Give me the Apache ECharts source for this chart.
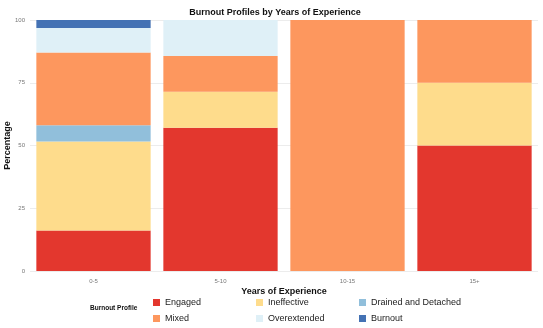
<!DOCTYPE html>
<html>
<head>
<meta charset="utf-8">
<script src="https://cdn.jsdelivr.net/npm/echarts@6/dist/echarts.min.js"></script>
<style>
  html, body { margin: 0; padding: 0; background: #fff; }
  #main { width: 543px; height: 328px; }
</style>
</head>
<body>
<div id="main"></div>
<script>
// categories and percentages per profile
const years = ['0-5', '5-10', '10-15', '15+'];
const engaged = [16.1, 57.1, 0, 50];
const ineffective = [35.5, 14.3, 0, 25];
const drained = [6.5, 0, 0, 0];
const mixed = [29.0, 14.3, 100, 25];
const overextended = [9.7, 14.3, 0, 0];
const burnout = [3.2, 0, 0, 0];
const yTicks = [0, 25, 50, 75, 100];

const colors = {
    'Engaged': '#e3372e',
    'Ineffective': '#fedc8c',
    'Drained and Detached': '#91bfdb',
    'Mixed': '#fd975e',
    'Overextended': '#dff0f7',
    'Burnout': '#4472b4'
};

let myChart = echarts.init(document.getElementById('main'));

function mkSeries(name, data) {
    return {
        name: name,
        type: 'bar',
        stack: 'total',
        barCategoryGap: '10%',
        itemStyle: { color: colors[name] },
        data: data
    };
}

function mkLegend(left, names) {
    return {
        orient: 'vertical',
        left: left,
        top: 293,
        itemWidth: 7,
        itemHeight: 7,
        itemGap: 7,
        icon: 'rect',
        textStyle: { fontSize: 9, color: '#222', fontFamily: 'Liberation Sans' },
        data: names
    };
}

const option = {
    animation: false,
    title: {
        text: 'Burnout Profiles by Years of Experience',
        left: 270,
        textAlign: 'center',
        top: 3,
        textStyle: { fontSize: 9, fontWeight: 'bold', color: '#111', fontFamily: 'Liberation Sans' }
    },
    legend: [
        mkLegend(148, ['Engaged', 'Mixed']),
        mkLegend(251, ['Ineffective', 'Overextended']),
        mkLegend(354, ['Drained and Detached', 'Burnout'])
    ],
    graphic: [
        {
            type: 'text',
            left: 90,
            top: 305,
            style: { text: 'Burnout Profile', fontSize: 6.5, fontWeight: 'bold', fill: '#111', fontFamily: 'Liberation Sans' }
        }
    ],
    grid: { left: 30, right: 5, top: 20, bottom: 57, outerBoundsMode: 'none', containLabel: false },
    xAxis: {
        type: 'category',
        data: years,
        name: 'Years of Experience',
        nameLocation: 'middle',
        nameGap: 16,
        nameMoveOverlap: false,
        nameTextStyle: { fontSize: 9, fontWeight: 'bold', color: '#111', fontFamily: 'Liberation Sans' },
        axisLine: { show: false },
        axisTick: { show: false },
        axisLabel: { fontSize: 6, color: '#777', margin: 7 },
        splitLine: { show: false }
    },
    yAxis: {
        type: 'value',
        min: yTicks[0],
        max: yTicks[yTicks.length - 1],
        interval: 25,
        name: 'Percentage',
        nameLocation: 'middle',
        nameGap: 18,
        nameMoveOverlap: false,
        nameTextStyle: { fontSize: 9, fontWeight: 'bold', color: '#111', fontFamily: 'Liberation Sans' },
        axisLabel: { fontSize: 6, color: '#777', margin: 5 },
        splitLine: { lineStyle: { color: '#ececec', width: 1 } },
        axisLine: { show: false },
        axisTick: { show: false }
    },
    series: [
        mkSeries('Engaged', engaged),
        mkSeries('Ineffective', ineffective),
        mkSeries('Drained and Detached', drained),
        mkSeries('Mixed', mixed),
        mkSeries('Overextended', overextended),
        mkSeries('Burnout', burnout)
    ]
};
myChart.setOption(option);
</script>
</body>
</html>
